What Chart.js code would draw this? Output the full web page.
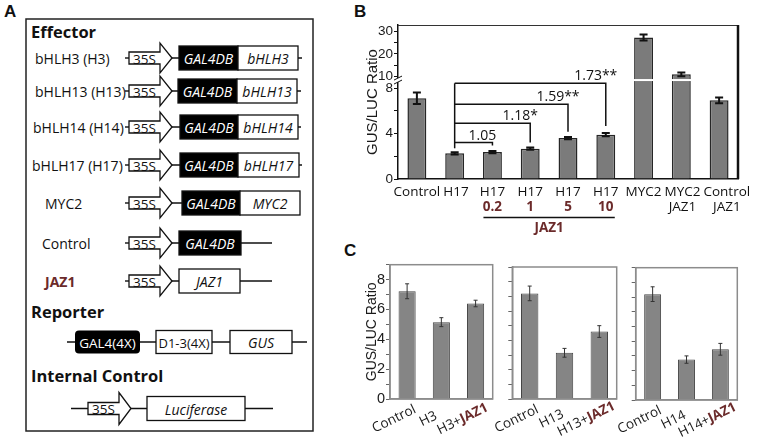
<!DOCTYPE html>
<html>
<head>
<meta charset="utf-8">
<script src="https://cdn.jsdelivr.net/npm/chart.js@4.4.1/dist/chart.umd.min.js"></script>
<style>
  body { margin: 0; background: #fff; width: 760px; height: 442px; overflow: hidden; position: relative; }
  canvas { position: absolute; }
  .panel { position: absolute; font: bold 17px "Liberation Sans", Arial, sans-serif; color: #111; }
</style>
</head>
<body>
<svg id="schem" width="345" height="442" style="position:absolute;left:0;top:0"></svg>
<div class="panel" style="left:4px;top:2px">A</div>
<div class="panel" style="left:354px;top:2px">B</div>
<div class="panel" style="left:344px;top:241px">C</div>
<canvas id="chartB" width="400" height="240" style="left:360px;top:0"></canvas>
<canvas id="chartC1" width="140" height="187" style="left:360px;top:255px"></canvas>
<canvas id="chartC2" width="145" height="187" style="left:480px;top:255px"></canvas>
<canvas id="chartC3" width="155" height="187" style="left:605px;top:255px"></canvas>
<script>
// ---------- panel B data ----------
const bCategories = ['Control', 'H17', 'H17', 'H17', 'H17', 'H17', 'MYC2', ['MYC2', 'JAZ1'], ['Control', 'JAZ1']];
const bDoses = ['', '', '0.2', '1', '5', '10', '', '', ''];
const bMeans = [7.1, 2.26, 2.37, 2.67, 3.6, 3.9, 27.2, 11.0, 6.92];
const bErrors = [0.5, 0.1, 0.1, 0.1, 0.1, 0.15, 1.3, 0.8, 0.25];
const bTickValues = [0, 2, 4, 6, 8, 10, 15, 20, 25, 30];
const bTickLabels = ['0', '', '4', '', '8', '10', '', '20', '', '30'];
// fold-change brackets, all starting at H17 (index 1)
const bBracketFrom = 1;
const bBracketFromEnd = 2.7;
const bBracketTo = [2, 3, 4, 5];
const bBracketTop = [3.2, 4.9, 6.57, 8.41];
const bBracketEnd = [2.95, 3.2, 4.16, 4.66];
const bBracketText = ['1.05', '1.18*', '1.59**', '1.73**'];

// ---------- panel C data ----------
const c1Categories = ['Control', 'H3', 'H3+JAZ1'];
const c1Means = [7.22, 5.15, 6.4];
const c1Errors = [0.5, 0.3, 0.22];
const c2Categories = ['Control', 'H13', 'H13+JAZ1'];
const c2Means = [7.2, 3.15, 4.6];
const c2Errors = [0.5, 0.3, 0.4];
const c3Categories = ['Control', 'H14', 'H14+JAZ1'];
const c3Means = [7.2, 2.75, 3.45];
const c3Errors = [0.5, 0.25, 0.4];

const BROWN = '#6b2a2a';
const SANS = '"Open Sans", sans-serif';
const ARIAL = '"Liberation Sans", Arial, sans-serif';
Chart.defaults.font.family = SANS;
Chart.defaults.color = '#1a1a1a';
Chart.defaults.animation = false;

// broken y axis for B: values above 10 are squeezed
const BREAK_LOW = 9, BREAK_HIGH = 10, UPPER_SCALE = 0.2;
function toAxis(v) { return v <= BREAK_LOW ? v : BREAK_LOW + (v - BREAK_HIGH) * UPPER_SCALE; }
function ident(v) { return v; }

function drawErrorBars(chart, means, errors, toY, color, width, cap) {
  const ctx = chart.ctx, xs = chart.scales.x, ys = chart.scales.y;
  ctx.save();
  ctx.strokeStyle = color;
  ctx.lineWidth = width;
  means.forEach((m, i) => {
    const px = xs.getPixelForValue(i);
    const top = ys.getPixelForValue(toY(m + errors[i]));
    const bot = ys.getPixelForValue(toY(m - errors[i]));
    ctx.beginPath();
    ctx.moveTo(px, top); ctx.lineTo(px, bot);
    ctx.moveTo(px - cap, top); ctx.lineTo(px + cap, top);
    ctx.moveTo(px - cap, bot); ctx.lineTo(px + cap, bot);
    ctx.stroke();
  });
  ctx.restore();
}

// ---------- panel B ----------
const bExtras = {
  id: 'bExtras',
  afterDatasetsDraw(chart) {
    const ctx = chart.ctx, xs = chart.scales.x, ys = chart.scales.y, a = chart.chartArea;
    drawErrorBars(chart, bMeans, bErrors, toAxis, '#111', 2, 4);

    // white break across tall bars
    const breakY = ys.getPixelForValue(8.7);
    const meta = chart.getDatasetMeta(0);
    ctx.save();
    ctx.strokeStyle = '#fff';
    ctx.lineWidth = 2;
    bMeans.forEach((m, i) => {
      if (m > BREAK_LOW) {
        const bar = meta.data[i];
        ctx.beginPath();
        ctx.moveTo(bar.x - bar.width / 2 - 2, breakY);
        ctx.lineTo(bar.x + bar.width / 2 + 2, breakY);
        ctx.stroke();
      }
    });
    // break mark on the axis
    ctx.fillStyle = '#fff';
    ctx.fillRect(a.left - 2, breakY - 2, 4, 4);
    ctx.strokeStyle = '#111';
    ctx.lineWidth = 1;
    [-2, 2].forEach(d => {
      ctx.beginPath();
      ctx.moveTo(a.left - 4, breakY + d + 2);
      ctx.lineTo(a.left + 4, breakY + d - 2);
      ctx.stroke();
    });

    // brackets
    ctx.strokeStyle = '#111';
    ctx.lineWidth = 1.5;
    const x0 = xs.getPixelForValue(bBracketFrom);
    ctx.beginPath();
    ctx.moveTo(x0, ys.getPixelForValue(bBracketTop[bBracketTop.length - 1]));
    ctx.lineTo(x0, ys.getPixelForValue(bBracketFromEnd));
    ctx.stroke();
    ctx.font = '14px ' + SANS;
    ctx.fillStyle = '#111';
    ctx.textAlign = 'center';
    ctx.textBaseline = 'alphabetic';
    bBracketTo.forEach((to, i) => {
      const x1 = xs.getPixelForValue(to);
      const yt = ys.getPixelForValue(bBracketTop[i]);
      ctx.beginPath();
      ctx.moveTo(x0, yt);
      ctx.lineTo(x1, yt);
      ctx.lineTo(x1, ys.getPixelForValue(bBracketEnd[i]));
      ctx.stroke();
      ctx.fillText(bBracketText[i], x1 - 10, yt - 3);
    });

    // frame: top and right
    ctx.strokeStyle = '#333';
    ctx.lineWidth = 1;
    ctx.beginPath();
    ctx.moveTo(a.left, a.top + 0.5); ctx.lineTo(a.right, a.top + 0.5);
    ctx.stroke();
    ctx.strokeStyle = '#111';
    ctx.lineWidth = 2.5;
    ctx.beginPath();
    ctx.moveTo(a.right, a.top); ctx.lineTo(a.right, a.bottom);
    ctx.stroke();

    // category labels; a label that would collide with its left neighbour is pushed right
    ctx.font = '13.5px ' + SANS;
    ctx.fillStyle = '#111';
    ctx.textBaseline = 'middle';
    let prevRight = -Infinity;
    bCategories.forEach((c, i) => {
      const lines = Array.isArray(c) ? c : [c];
      const w = ctx.measureText(lines[0]).width;
      let cx = xs.getPixelForValue(i);
      if (cx - w / 2 < prevRight + 3) cx = prevRight + 3 + w / 2;
      prevRight = cx + w / 2;
      lines.forEach((ln, k) => ctx.fillText(ln, cx, a.bottom + 13 + k * 15.5));
    });

    // JAZ1 doses under the H17 labels
    ctx.font = 'bold 13.5px ' + SANS;
    ctx.fillStyle = BROWN;
    bDoses.forEach((d, i) => {
      if (d) ctx.fillText(d, xs.getPixelForValue(i), a.bottom + 28);
    });
    const first = bDoses.findIndex(d => d);
    const last = bDoses.length - 1 - [...bDoses].reverse().findIndex(d => d);
    const xa = xs.getPixelForValue(first) - 9, xb = xs.getPixelForValue(last) + 9;
    ctx.strokeStyle = '#111';
    ctx.lineWidth = 1.5;
    ctx.beginPath();
    ctx.moveTo(xa, a.bottom + 38.5); ctx.lineTo(xb, a.bottom + 38.5);
    ctx.stroke();
    ctx.fillText('JAZ1', (xa + xb) / 2, a.bottom + 49);
    ctx.restore();
  }
};

new Chart(document.getElementById('chartB'), {
  type: 'bar',
  data: {
    labels: bCategories,
    datasets: [{
      data: bMeans.map(toAxis),
      backgroundColor: '#7b7b7b',
      borderColor: '#262626',
      borderWidth: 1.5,
      barPercentage: 0.5,
      categoryPercentage: 1
    }]
  },
  options: {
    responsive: false,
    layout: { padding: { left: 0, top: 25, right: 22, bottom: 0 } },
    plugins: { legend: { display: false }, tooltip: { enabled: false } },
    scales: {
      x: {
        grid: { display: false, drawTicks: false },
        border: { display: true, color: '#111', width: 1.5 },
        ticks: { display: false },
        afterFit(s) { s.height = 61; }
      },
      y: {
        min: 0,
        max: 13.54,
        afterBuildTicks(s) { s.ticks = bTickValues.map(v => ({ value: toAxis(v) })); },
        ticks: {
          autoSkip: false,
          padding: 1,
          font: { family: ARIAL, size: 13.5 },
          color: '#1a1a1a',
          callback: (v, i) => bTickLabels[i]
        },
        grid: { drawOnChartArea: false, drawTicks: true, tickLength: 4, color: '#111' },
        border: { display: true, color: '#111', width: 1.5 },
        title: { display: true, text: 'GUS/LUC Ratio', font: { family: ARIAL, size: 15 }, color: '#1a1a1a', padding: { top: 3.5, bottom: 0 } },
        afterFit(s) { s.width = 38; }
      }
    }
  },
  plugins: [bExtras]
});

// ---------- panel C ----------
function makeC(id, categories, means, errors, showY, padTop, padRight, yWidth, xHeight) {
  const extras = {
    id: 'cExtras',
    afterDatasetsDraw(chart) {
      const ctx = chart.ctx, xs = chart.scales.x, a = chart.chartArea;
      drawErrorBars(chart, means, errors, ident, '#333', 1, 2);
      ctx.save();
      ctx.strokeStyle = '#8c8c8c';
      ctx.lineWidth = 1.5;
      ctx.strokeRect(a.left, a.top, a.right - a.left, a.bottom - a.top);
      // rotated category labels, "JAZ1" in bold brown
      categories.forEach((c, i) => {
        const parts = c.endsWith('+JAZ1') ? [c.slice(0, -4), 'JAZ1'] : [c];
        const fonts = ['13.5px ' + SANS, 'bold 13.5px ' + SANS];
        let w = 0;
        const widths = parts.map((p, k) => { ctx.font = fonts[k]; const m = ctx.measureText(p).width; w += m; return m; });
        ctx.save();
        ctx.translate(xs.getPixelForValue(i) - 13, a.bottom + 20);
        ctx.rotate(-26 * Math.PI / 180);
        ctx.textBaseline = 'middle';
        ctx.textAlign = 'left';
        let x = -w / 2;
        parts.forEach((p, k) => {
          ctx.font = fonts[k];
          ctx.fillStyle = k ? BROWN : '#1a1a1a';
          ctx.fillText(p, x, 0);
          x += widths[k];
        });
        ctx.restore();
      });
      ctx.restore();
    }
  };
  new Chart(document.getElementById(id), {
    type: 'bar',
    data: {
      labels: categories,
      datasets: [{
        data: means,
        backgroundColor: '#858585',
        borderColor: '#454545',
        borderWidth: 1,
        barPercentage: 0.5,
        categoryPercentage: 1
      }]
    },
    options: {
      responsive: false,
      layout: { padding: { left: 0, top: padTop, right: padRight, bottom: 0 } },
      plugins: { legend: { display: false }, tooltip: { enabled: false } },
      scales: {
        x: {
          grid: { display: false, drawTicks: false },
          border: { display: true, color: '#8c8c8c', width: 1.5 },
          ticks: { display: false },
          afterFit(s) { s.height = xHeight; }
        },
        y: {
          min: 0,
          max: 9,
          ticks: {
            stepSize: 1,
            autoSkip: false,
            padding: 1,
            font: { family: ARIAL, size: 14.5 },
            color: '#1a1a1a',
            callback: v => (showY && v % 2 === 0 ? v : '')
          },
          grid: { drawOnChartArea: false, drawTicks: true, tickLength: 4, color: '#666' },
          border: { display: true, color: '#8c8c8c', width: 1.5 },
          title: { display: showY, text: 'GUS/LUC Ratio', font: { family: ARIAL, size: 14 }, color: '#1a1a1a', padding: { top: 3.3, bottom: 0 } },
          afterFit(s) { s.width = yWidth; }
        }
      }
    },
    plugins: [extras]
  });
}
makeC('chartC1', c1Categories, c1Means, c1Errors, true, 9.3, 7.3, 30, 43);
makeC('chartC2', c2Categories, c2Means, c2Errors, false, 12, 8.3, 32.3, 43);
makeC('chartC3', c3Categories, c3Means, c3Errors, false, 12.7, 22.7, 30.7, 42);

// ---------- panel A: construct schematic ----------
const svg = document.getElementById('schem');
const NS = 'http://www.w3.org/2000/svg';
function el(tag, attrs, text) {
  const e = document.createElementNS(NS, tag);
  for (const k in attrs) e.setAttribute(k, attrs[k]);
  if (text != null) e.textContent = text;
  svg.appendChild(e);
  return e;
}
function line(x1, y1, x2, y2) { el('line', { x1, y1, x2, y2, stroke: '#111', 'stroke-width': 1.4 }); }
function txt(x, y, s, size, extra) {
  return el('text', Object.assign({ x, y, 'font-size': size, 'font-family': '"Open Sans", sans-serif', fill: '#111', 'dominant-baseline': 'central' }, extra || {}), s);
}
function promoter(x, cy, head) {
  el('path', {
    d: `M${x} ${cy - 6}H${x + 31}V${cy - head}L${x + 43} ${cy}L${x + 31} ${cy + head}V${cy + 6}H${x}Z`,
    fill: '#fff', stroke: '#111', 'stroke-width': 1.3
  });
  txt(x + 15.5, cy + 0.5, '35S', 13.5, { 'text-anchor': 'middle' });
  return x + 43;
}
function box(x1, x2, cy, h, dark, label, italic, size) {
  el('rect', { x: x1, y: cy - h / 2, width: x2 - x1, height: h, fill: dark ? '#000' : '#fff', stroke: '#111', 'stroke-width': 1.3 });
  txt((x1 + x2) / 2, cy + 0.5, label, size || 13.5, { 'text-anchor': 'middle', fill: dark ? '#fff' : '#111', 'font-style': italic ? 'italic' : 'normal' });
}

el('rect', { x: 26, y: 19, width: 287, height: 412, fill: 'none', stroke: '#222', 'stroke-width': 1.5 });
txt(31, 31, 'Effector', 16.5, { 'font-weight': 'bold' });

const effectorRows = [
  { name: 'bHLH3 (H3)', nx: 35, y: 58, black: [179, 238], white: [238, 298, 'bHLH3'], tail: 302 },
  { name: 'bHLH13 (H13)', nx: 35, y: 91, black: [178, 237], white: [237, 297, 'bHLH13'], tail: 301 },
  { name: 'bHLH14 (H14)', nx: 33, y: 127, black: [180, 238], white: [238, 298, 'bHLH14'], tail: 301 },
  { name: 'bHLH17 (H17)', nx: 32, y: 165, black: [180, 238], white: [238, 299, 'bHLH17'], tail: 302 },
  { name: 'MYC2', nx: 45, y: 203, black: [182, 240], white: [240, 300, 'MYC2'], tail: 300 },
  { name: 'Control', nx: 42, y: 243, black: [179, 241], tail: 272 },
  { name: 'JAZ1', nx: 45, y: 281, white: [179, 240, 'JAZ1'], tail: 272, brown: true }
];
effectorRows.forEach(r => {
  txt(r.nx, r.y, r.name, 14, r.brown ? { fill: BROWN, 'font-weight': 'bold' } : {});
  line(125, r.y, 129, r.y);
  line(170, r.y, r.tail, r.y);
  promoter(129, r.y, 15);
  if (r.black) box(r.black[0], r.black[1], r.y, 24, true, 'GAL4DB', true, 14);
  if (r.white) box(r.white[0], r.white[1], r.y, 24, false, r.white[2], true, 14);
});

txt(31, 311, 'Reporter', 16.5, { 'font-weight': 'bold' });
line(67, 342, 307, 342);
el('rect', { x: 75, y: 330.5, width: 65, height: 23, rx: 4, fill: '#000' });
txt(107.5, 342.5, 'GAL4(4X)', 13.5, { 'text-anchor': 'middle', fill: '#fff' });
box(156, 212, 342, 23, false, 'D1-3(4X)', false, 13);
box(230, 292, 342, 23, false, 'GUS', true, 14);

txt(31, 375, 'Internal Control', 16.5, { 'font-weight': 'bold' });
line(71, 408.5, 273, 408.5);
promoter(88, 408.5, 16);
box(147, 245, 408.5, 24, false, 'Luciferase', true, 14);
</script>
</body>
</html>
